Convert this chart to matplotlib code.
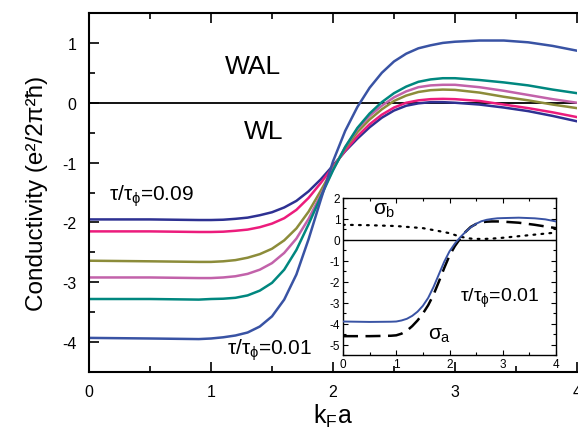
import matplotlib
matplotlib.use("Agg")
import matplotlib.pyplot as plt
from matplotlib.ticker import MultipleLocator

plt.rcParams['font.family'] = ['Liberation Sans', 'DejaVu Sans']
plt.rcParams['mathtext.fontset'] = 'custom'
plt.rcParams['mathtext.rm'] = 'Liberation Sans'
plt.rcParams['mathtext.it'] = 'Liberation Sans'
plt.rcParams['mathtext.sf'] = 'Liberation Sans'
plt.rcParams['axes.unicode_minus'] = False

# ---- main panel data ----
kfa = [0, 0.5, 0.9, 1.0, 1.1, 1.2, 1.3, 1.4, 1.5, 1.6, 1.7, 1.8, 1.9, 2.0, 2.1, 2.2,
       2.3, 2.4, 2.5, 2.6, 2.7, 2.8, 2.9, 3.0, 3.2, 3.4, 3.6, 3.8, 4.0]
sig_009 = [-1.95, -1.95, -1.96, -1.96, -1.955, -1.94, -1.92, -1.88, -1.83, -1.75, -1.64,
           -1.48, -1.28, -1.05, -0.81, -0.60, -0.41, -0.25, -0.13, -0.05, -0.01, 0.01,
           0.01, 0.0, -0.03, -0.08, -0.14, -0.22, -0.31]
sig_pink = [-2.15, -2.15, -2.16, -2.16, -2.155, -2.14, -2.12, -2.08, -2.02, -1.93, -1.79,
            -1.59, -1.34, -1.07, -0.80, -0.56, -0.36, -0.20, -0.08, 0.0, 0.04, 0.06,
            0.065, 0.06, 0.03, -0.03, -0.09, -0.16, -0.24]
sig_olive = [-2.64, -2.65, -2.66, -2.66, -2.65, -2.63, -2.59, -2.53, -2.44, -2.30, -2.10,
             -1.82, -1.47, -1.10, -0.76, -0.49, -0.28, -0.11, 0.03, 0.12, 0.18, 0.21,
             0.22, 0.215, 0.17, 0.10, 0.04, -0.03, -0.09]
sig_purple = [-2.92, -2.92, -2.93, -2.93, -2.92, -2.90, -2.86, -2.79, -2.68, -2.51, -2.27,
              -1.94, -1.54, -1.12, -0.74, -0.44, -0.22, -0.05, 0.09, 0.19, 0.26, 0.29,
              0.30, 0.30, 0.26, 0.20, 0.13, 0.06, 0.0]
sig_teal = [-3.28, -3.28, -3.29, -3.28, -3.275, -3.26, -3.22, -3.14, -3.01, -2.79, -2.46,
            -2.03, -1.57, -1.13, -0.74, -0.42, -0.18, 0.01, 0.16, 0.27, 0.35, 0.39,
            0.41, 0.41, 0.38, 0.34, 0.29, 0.22, 0.16]
sig_001 = [-3.93, -3.94, -3.95, -3.94, -3.92, -3.89, -3.84, -3.74, -3.57, -3.29, -2.87,
           -2.28, -1.62, -0.98, -0.47, -0.07, 0.25, 0.50, 0.69, 0.82, 0.91, 0.96,
           1.00, 1.02, 1.04, 1.04, 1.01, 0.95, 0.87]
series = [sig_009, sig_pink, sig_olive, sig_purple, sig_teal, sig_001]
colors = ['#2E3192', '#EC1C7C', '#8C8C3A', '#C262AA', '#00877F', '#3953A4']

# ---- inset data ----
kfa_in = [0, 0.5, 0.9, 1.0, 1.1, 1.2, 1.3, 1.4, 1.5, 1.6, 1.7, 1.8, 1.9, 2.0, 2.1, 2.2,
          2.3, 2.4, 2.5, 2.6, 2.7, 2.8, 2.9, 3.0, 3.3, 3.6, 3.8, 4.0]
sig_tot_in = [-3.90, -3.92, -3.91, -3.90, -3.85, -3.77, -3.63, -3.43, -3.15, -2.77, -2.25,
              -1.65, -1.05, -0.55, -0.18, 0.12, 0.38, 0.60, 0.77, 0.89, 0.96, 1.00,
              1.03, 1.04, 1.06, 1.03, 0.98, 0.88]
sig_a = [-4.60, -4.60, -4.58, -4.56, -4.48, -4.34, -4.12, -3.85, -3.52, -3.12, -2.62,
         -2.00, -1.35, -0.75, -0.30, 0.06, 0.38, 0.62, 0.76, 0.84, 0.87, 0.88,
         0.88, 0.87, 0.82, 0.72, 0.64, 0.56]
kfa_b = [0, 0.5, 1.0, 1.5, 1.8, 2.0, 2.2, 2.4, 2.6, 2.8, 3.0, 3.4, 3.8, 4.0]
sig_b = [0.72, 0.70, 0.66, 0.56, 0.42, 0.32, 0.15, 0.06, 0.04, 0.06, 0.10, 0.20, 0.30, 0.35]

fig = plt.figure(figsize=(5.78, 4.31), dpi=100)
ax = fig.add_axes([89/578, 1-373/431, 488/578, 359/431])
ax.axhline(0, color='black', lw=1.3, zorder=1)
for ys, c in zip(series, colors):
    ax.plot(kfa, ys, color=c, lw=1.8, zorder=2, solid_joinstyle='round')
ax.set_xlim(0, 4)
ax.set_ylim(-4.5, 1.5)
ax.xaxis.set_major_locator(MultipleLocator(1))
ax.xaxis.set_minor_locator(MultipleLocator(0.5))
ax.yaxis.set_major_locator(MultipleLocator(1))
ax.yaxis.set_minor_locator(MultipleLocator(0.5))
ax.tick_params(which='both', direction='in', top=True, right=False, width=1.2)
ax.tick_params(which='major', length=7, labelsize=11.5)
ax.tick_params(which='minor', length=4.5)
ax.tick_params(axis='y', pad=9)
ax.tick_params(axis='x', pad=9)
ax.spines['right'].set_visible(False)
for s in ['left', 'bottom', 'top']:
    ax.spines[s].set_linewidth(1.5)
ax.set_xlabel(r'k$_\mathrm{F}$a', fontsize=18, labelpad=2)
ax.set_ylabel('Conductivity (e²/2π²ħ)', fontsize=17.5, labelpad=10)

ax.text(1.34, 0.62, 'WAL', fontsize=19, ha='center', va='center')
ax.text(1.43, -0.47, 'WL', fontsize=19, ha='center', va='center')
ax.text(0.16, -1.62, r'$\tau/\tau_{\phi}$=0.09', fontsize=15, ha='left', va='baseline')
ax.text(1.13, -4.2, r'$\tau/\tau_{\phi}$=0.01', fontsize=15, ha='left', va='baseline')

# ---- inset ----
axi = fig.add_axes([343/578, 1-356/431, 213/578, 157/431])
axi.set_facecolor('white')
axi.axhline(0, color='black', lw=1.0, zorder=1)
axi.plot(kfa_b, sig_b, color='black', lw=1.6, linestyle=(0, (0.8, 2.8)),
         dash_capstyle='round', zorder=2)
axi.plot(kfa_in, sig_a, color='black', lw=1.8, linestyle=(0, (6, 3)), zorder=2)
axi.plot(kfa_in, sig_tot_in, color='#3953A4', lw=1.4, zorder=3)
axi.set_xlim(0, 4)
axi.set_ylim(-5.5, 2)
axi.xaxis.set_major_locator(MultipleLocator(1))
axi.xaxis.set_minor_locator(MultipleLocator(0.5))
axi.yaxis.set_major_locator(MultipleLocator(1))
axi.yaxis.set_minor_locator(MultipleLocator(0.5))
axi.tick_params(which='both', direction='in', top=True, right=True, width=0.8)
axi.tick_params(which='major', length=3.5, labelsize=8.5, pad=2)
axi.tick_params(which='minor', length=2)
for s in axi.spines.values():
    s.set_linewidth(1.0)
axi.text(0.56, 1.24, r'$\sigma_\mathrm{b}$', fontsize=15, ha='left', va='baseline')
axi.text(1.6, -4.74, r'$\sigma_\mathrm{a}$', fontsize=15, ha='left', va='baseline')
axi.text(2.2, -2.9, r'$\tau/\tau_{\phi}$=0.01', fontsize=14, ha='left', va='baseline')

fig.savefig('out.png', dpi=100)
